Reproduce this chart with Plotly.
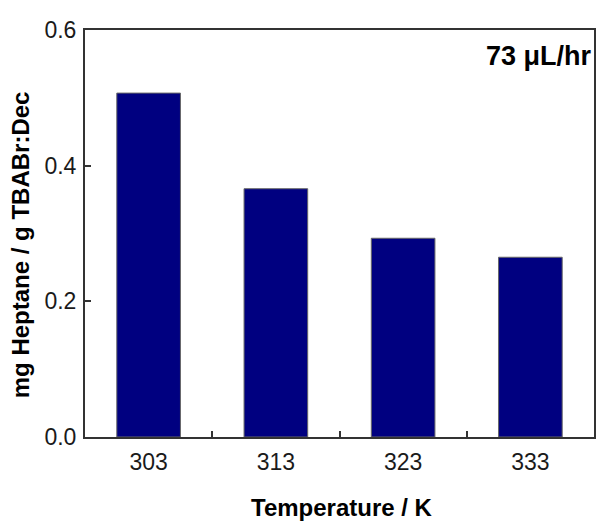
import plotly.graph_objects as go

temperatures = ["303", "313", "323", "333"]
heptane_mg_per_g = [0.507, 0.366, 0.293, 0.265]
y_tick_vals = [0.0, 0.2, 0.4, 0.6]
y_tick_text = ["0.0", "0.2", "0.4", "0.6"]

fig = go.Figure()
fig.add_trace(go.Bar(
    x=temperatures, y=heptane_mg_per_g, width=0.5,
    marker=dict(color="#000080", line=dict(color="#666666", width=1)),
))

FONT = "Liberation Sans, Arial, sans-serif"
fig.update_layout(
    width=600, height=521,
    margin=dict(l=85, r=4, t=30, b=84),
    plot_bgcolor="white", paper_bgcolor="white",
    showlegend=False,
    font=dict(family=FONT, color="#1a1a1a"),
    annotations=[
        dict(text="<b>73 μL/hr</b>", xref="paper", yref="paper",
             x=1.0, y=0.936, xanchor="right", yanchor="middle",
             showarrow=False, font=dict(size=27, color="black")),
        dict(text="<b>Temperature / K</b>", xref="paper", yref="paper",
             x=0.504, y=-0.174, xanchor="center", yanchor="middle",
             showarrow=False, font=dict(size=24, color="black")),
        dict(text="<b>mg Heptane / g TBABr:Dec</b>", xref="paper", yref="paper",
             x=-0.125, y=0.472, xanchor="center", yanchor="middle", textangle=-90,
             showarrow=False, font=dict(size=24, color="black")),
    ],
)
fig.update_xaxes(
    type="category", showline=True, linecolor="#333333", linewidth=2, mirror=True,
    ticks="inside", tickson="boundaries", ticklen=6, tickwidth=2, tickcolor="#333333",
    tickfont=dict(size=23), ticklabelstandoff=3,
)
fig.update_yaxes(
    range=[0, 0.6], tickvals=y_tick_vals, ticktext=y_tick_text,
    showline=True, linecolor="#333333", linewidth=2, mirror=True,
    ticks="inside", ticklen=6, tickwidth=2, tickcolor="#333333",
    showgrid=False, zeroline=False,
    tickfont=dict(size=23), ticklabelstandoff=2,
)

fig.write_html("out.html", config={"displayModeBar": False},
               post_script="document.body.style.margin='0';")
